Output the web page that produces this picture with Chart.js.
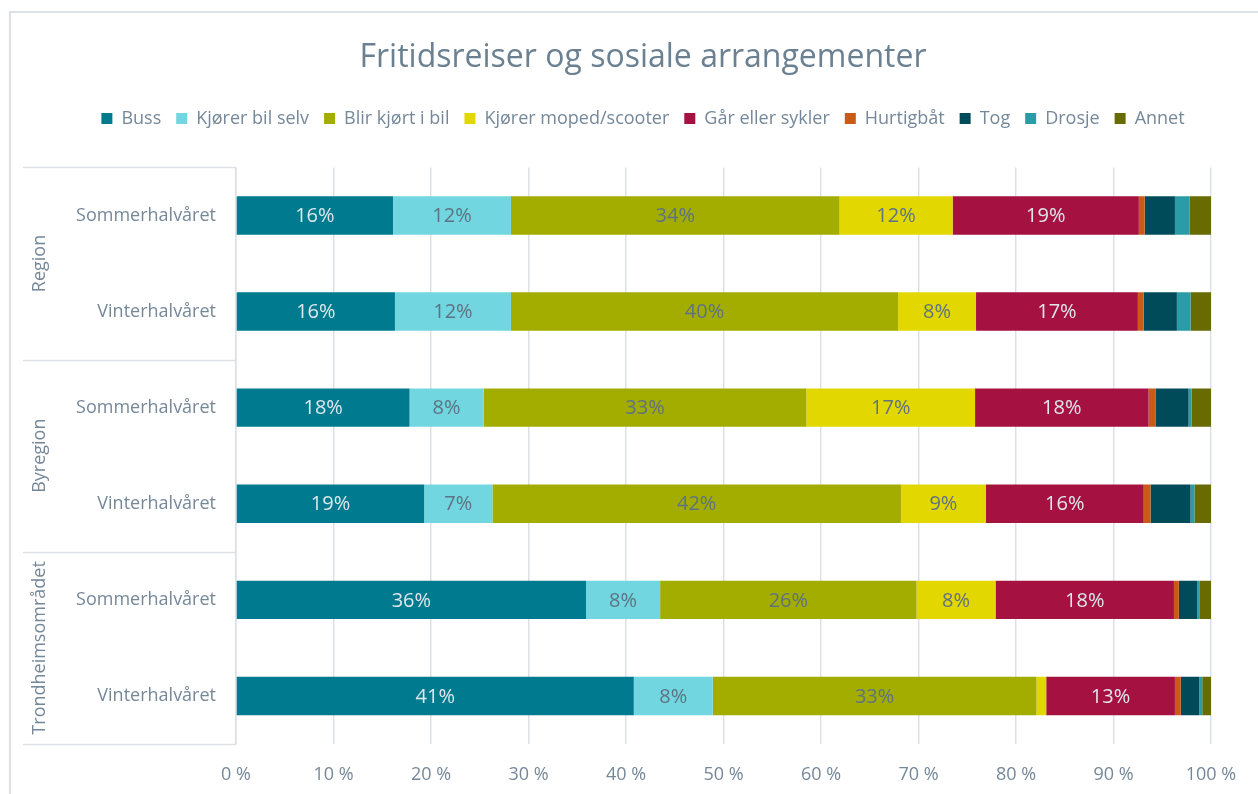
<!DOCTYPE html>
<html>
<head>
<meta charset="utf-8">
<script src="https://cdn.jsdelivr.net/npm/chart.js@4.4.1/dist/chart.umd.min.js"></script>
<style>
    html, body { margin: 0; padding: 0; background: #fff; }
    #wrap { width: 1258px; height: 794px; position: relative; }
</style>
</head>
<body>
<div id="wrap"><canvas id="travelChart" width="1258" height="794"></canvas></div>
<script>
// ------------------------------------------
// Data (share of trips, %)
// ------------------------------------------
const groups = ['Region', 'Byregion', 'Trondheimsområdet'];
const periods = ['Sommerhalvåret', 'Vinterhalvåret'];
const categories = groups.flatMap(() => periods);

const seriesNames = ['Buss', 'Kjører bil selv', 'Blir kjørt i bil', 'Kjører moped/scooter',
    'Går eller sykler', 'Hurtigbåt', 'Tog', 'Drosje', 'Annet'];

const buss       = [16.1, 16.3, 17.8, 19.3, 35.9, 40.8];
const kjorerBil  = [12.1, 11.9, 7.6, 7.0, 7.6, 8.1];
const blirKjort  = [33.7, 39.7, 33.1, 41.9, 26.3, 33.2];
const moped      = [11.6, 8.0, 17.3, 8.7, 8.1, 1.0];
const garSykler  = [19.1, 16.6, 17.8, 16.2, 18.3, 13.2];
const hurtigbat  = [0.6, 0.6, 0.7, 0.7, 0.5, 0.6];
const tog        = [3.1, 3.4, 3.4, 4.1, 1.9, 1.9];
const drosje     = [1.5, 1.4, 0.3, 0.4, 0.2, 0.3];
const annet      = [2.2, 2.1, 2.0, 1.7, 1.2, 0.9];

const xTicks = [0, 10, 20, 30, 40, 50, 60, 70, 80, 90, 100];

const seriesValues = [buss, kjorerBil, blirKjort, moped, garSykler, hurtigbat, tog, drosje, annet];
const seriesColors = ['#007a8f', '#72d6e0', '#a2ad00', '#e2d800', '#a51242', '#c95b17', '#004b5a', '#2a9ca8', '#686b00'];
// label colour on top of each series: light on dark fills, grey on light fills
const labelColors = ['#dfe7ec', '#5f7282', '#5f7282', '#5f7282', '#dfe7ec', '#fff', '#fff', '#fff', '#fff'];

const axisText = '#75889a';
const lineColor = '#dde1e6';
const fontFamily = "'Open Sans', sans-serif";

// ------------------------------------------
// Plugins
// ------------------------------------------
const segmentLabels = {
    id: 'segmentLabels',
    afterDatasetsDraw(chart) {
        const { ctx } = chart;
        ctx.save();
        ctx.font = `20px ${fontFamily}`;
        ctx.textAlign = 'center';
        ctx.textBaseline = 'middle';
        chart.data.datasets.forEach((ds, di) => {
            const meta = chart.getDatasetMeta(di);
            meta.data.forEach((bar, i) => {
                const v = ds.data[i];
                if (v < 5) return;
                const cx = (bar.x + bar.base) / 2;
                ctx.fillStyle = labelColors[di];
                ctx.fillText(Math.round(v) + '%', cx, bar.y + 1);
            });
        });
        ctx.restore();
    }
};

const groupAxis = {
    id: 'groupAxis',
    afterDraw(chart) {
        const { ctx, chartArea } = chart;
        const y = chart.scales.y;
        const step = y.getPixelForValue(1) - y.getPixelForValue(0);
        ctx.save();

        // outer frame (only top and left edge visible)
        ctx.strokeStyle = lineColor;
        ctx.lineWidth = 2;
        ctx.beginPath();
        ctx.moveTo(10, chart.height);
        ctx.lineTo(10, 12);
        ctx.lineTo(chart.width, 12);
        ctx.stroke();

        // group separators
        ctx.lineWidth = 1.5;
        ctx.beginPath();
        for (let g = 0; g <= groups.length; g++) {
            const py = Math.round(y.getPixelForValue(g * periods.length) - step / 2) + 0.5;
            ctx.moveTo(23, py);
            ctx.lineTo(chartArea.left, py);
        }
        ctx.stroke();

        // group names, rotated
        ctx.fillStyle = axisText;
        ctx.font = `18px ${fontFamily}`;
        ctx.textAlign = 'center';
        ctx.textBaseline = 'middle';
        groups.forEach((name, g) => {
            const top = y.getPixelForValue(g * periods.length) - step / 2;
            const bottom = y.getPixelForValue((g + 1) * periods.length - 1) + step / 2;
            ctx.save();
            ctx.translate(40, (top + bottom) / 2);
            ctx.rotate(-Math.PI / 2);
            ctx.fillText(name, 0, 0);
            ctx.restore();
        });
        ctx.restore();
    }
};

// ------------------------------------------
// Chart
// ------------------------------------------
const datasets = seriesNames.map((name, i) => ({
    label: name,
    data: seriesValues[i],
    backgroundColor: seriesColors[i],
    borderWidth: 0,
    barPercentage: 0.4,
    categoryPercentage: 1
}));

new Chart(document.getElementById('travelChart'), {
    type: 'bar',
    data: { labels: categories, datasets },
    options: {
        indexAxis: 'y',
        responsive: false,
        animation: false,
        layout: { padding: { left: 28, right: 0, top: 0, bottom: 0 } },
        plugins: {
            title: {
                display: true,
                text: 'Fritidsreiser og sosiale arrangementer',
                color: '#6b8091',
                font: { family: fontFamily, size: 32, weight: 'normal' },
                padding: { top: 39, bottom: 17 }
            },
            legend: {
                display: true,
                position: 'top',
                labels: {
                    color: axisText,
                    font: { family: fontFamily, size: 18 },
                    boxWidth: 11,
                    boxHeight: 11,
                    padding: 15
                }
            },
            tooltip: { enabled: false }
        },
        scales: {
            x: {
                stacked: true,
                min: 0,
                max: 100,
                afterBuildTicks(scale) {
                    scale.ticks = xTicks.map(v => ({ value: v }));
                },
                afterFit(scale) { scale.height = 50; },
                grid: { color: lineColor, lineWidth: 1.5, drawTicks: false },
                border: { display: false },
                ticks: {
                    color: axisText,
                    padding: 20,
                    font: { family: fontFamily, size: 18 },
                    callback: v => v + ' %'
                }
            },
            xTop: {
                type: 'linear',
                axis: 'x',
                position: 'top',
                afterFit(scale) { scale.height = 30; },
                grid: { display: false, drawTicks: false },
                border: { display: false },
                ticks: { display: false }
            },
            y: {
                stacked: true,
                afterFit(scale) { scale.width = 208; },
                grid: { display: false, drawTicks: false },
                border: { display: true, color: lineColor, width: 1.5 },
                ticks: {
                    color: axisText,
                    padding: 20,
                    font: { family: fontFamily, size: 18 }
                }
            },
            yRight: {
                type: 'linear',
                axis: 'y',
                position: 'right',
                afterFit(scale) { scale.width = 47; },
                grid: { display: false, drawTicks: false },
                border: { display: false },
                ticks: { display: false }
            }
        }
    },
    plugins: [segmentLabels, groupAxis]
});
</script>
</body>
</html>
